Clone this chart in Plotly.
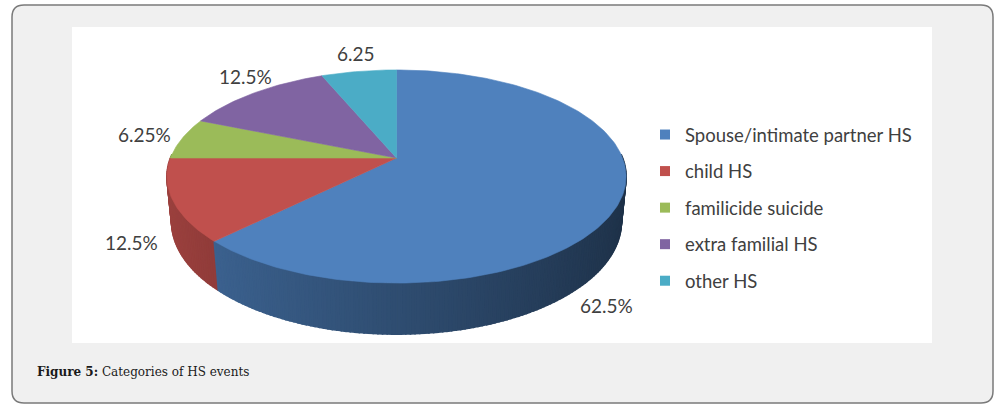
import numpy as np
import plotly.graph_objects as go

# ---------------- data ----------------
categories = ["Spouse/intimate partner HS", "child HS", "familicide suicide",
              "extra familial HS", "other HS"]
values = [62.5, 12.5, 6.25, 12.5, 6.25]
label_texts = ["62.5%", "12.5%", "6.25%", "12.5%", "6.25"]
colors = ["#4F81BD", "#C0504D", "#9BBB59", "#8064A2", "#4BACC6"]

# ---------------- 3D pie projection (perspective) ----------------
CX, CY = 396.5, 158.0
PHI = np.radians(27.2)
C, S = np.cos(PHI), np.sin(PHI)
D = 5.12
F = 1157.6
T = 0.2275  # thickness


def project(theta_deg, yw):
    th = np.radians(theta_deg)
    X = np.sin(th)
    Z = np.cos(th)
    yv = Z * S + yw * C
    zv = Z * C - yw * S
    w = D + zv
    return CX + F * X / w, CY - F * yv / w


def shade(hex_color, f):
    h = hex_color.lstrip("#")
    r, g, b = (int(h[i:i + 2], 16) for i in (0, 2, 4))
    return "rgb(%d,%d,%d)" % (int(r * f), int(g * f), int(b * f))


total = sum(values)
starts, ends = [], []
acc = 0.0
for v in values:
    starts.append(360.0 * acc / total)
    acc += v
    ends.append(360.0 * acc / total)

fig = go.Figure()

# side walls (front half only), split into thin quads for shading gradient
quads = []
for i, (a0, a1) in enumerate(zip(starts, ends)):
    lo, hi = max(a0, 88.0), min(a1, 272.0)
    if hi <= lo:
        continue
    n = max(2, int(np.ceil((hi - lo) / 1.0)))
    edges = np.linspace(lo, hi, n + 1)
    for t0, t1 in zip(edges[:-1], edges[1:]):
        mid = 0.5 * (t0 + t1)
        f = 0.6 - 0.22 * np.sin(np.radians(mid))
        quads.append((abs(mid - 180.0), t0, t1, shade(colors[i], f)))

quads.sort(key=lambda q: -q[0])
for _, t0, t1, col in quads:
    p = [project(t0, 0), project(t1, 0), project(t1, -T), project(t0, -T)]
    xs = [q[0] for q in p] + [p[0][0]]
    ys = [q[1] for q in p] + [p[0][1]]
    fig.add_trace(go.Scatter(x=xs, y=ys, mode="lines", fill="toself",
                             fillcolor=col, line=dict(color=col, width=1.6),
                             hoverinfo="skip", showlegend=False))

# top faces
for i, (a0, a1) in enumerate(zip(starts, ends)):
    arc = np.linspace(a0, a1, max(3, int((a1 - a0) / 1.0) + 1))
    xs = [CX] + [project(a, 0)[0] for a in arc] + [CX]
    ys = [CY] + [project(a, 0)[1] for a in arc] + [CY]
    fig.add_trace(go.Scatter(x=xs, y=ys, mode="lines", fill="toself",
                             fillcolor=colors[i],
                             line=dict(color=colors[i], width=0.6),
                             hoverinfo="skip", showlegend=False))

# legend entries
for i, name in enumerate(categories):
    fig.add_trace(go.Scatter(x=[None], y=[None], mode="markers", name=name,
                             legendgroup=name,
                             marker=dict(symbol="square", size=10,
                                         color=colors[i])))

# data labels
label_pos = [(606, 305), (131, 242), (144, 134), (245, 76), (356, 53)]
annotations = []
for (lx, ly), txt in zip(label_pos, label_texts):
    annotations.append(dict(x=lx, y=ly, xref="x", yref="y", text=txt,
                            showarrow=False,
                            font=dict(family="Lato", size=19, color="#404040")))

annotations.append(dict(x=35, y=372, xref="x", yref="y", xanchor="left",
                        yanchor="middle", showarrow=False,
                        text="<b>Figure 5:</b> Categories of HS events",
                        font=dict(family="DejaVu Serif", size=12,
                                  color="#1a1a1a")))

L, R, TOP, BOT, RAD = 12, 993, 5, 403, 12
box_path = (f"M {L+RAD},{TOP} L {R-RAD},{TOP} Q {R},{TOP} {R},{TOP+RAD} "
            f"L {R},{BOT-RAD} Q {R},{BOT} {R-RAD},{BOT} L {L+RAD},{BOT} "
            f"Q {L},{BOT} {L},{BOT-RAD} L {L},{TOP+RAD} Q {L},{TOP} {L+RAD},{TOP} Z")

fig.update_layout(
    width=1006, height=411,
    margin=dict(l=0, r=0, t=0, b=0),
    paper_bgcolor="white", plot_bgcolor="rgba(0,0,0,0)",
    xaxis=dict(range=[0, 1006], visible=False, fixedrange=True),
    yaxis=dict(range=[411, 0], visible=False, fixedrange=True),
    shapes=[
        dict(type="path", path=box_path, xref="x", yref="y",
             fillcolor="#f0f0f0", line=dict(color="#7a7a7a", width=1.5),
             layer="below"),
        dict(type="rect", x0=72, x1=932, y0=27, y1=343, xref="x", yref="y",
             fillcolor="white", line=dict(width=0), layer="below"),
    ],
    annotations=annotations,
    showlegend=True,
    legend=dict(x=645 / 1006, y=1 - 116 / 411, xanchor="left", yanchor="top",
                font=dict(family="Lato", size=18.5, color="#404040"),
                bgcolor="rgba(0,0,0,0)", tracegroupgap=9.5,
                traceorder="grouped"),
)

fig.write_html("out.html")
